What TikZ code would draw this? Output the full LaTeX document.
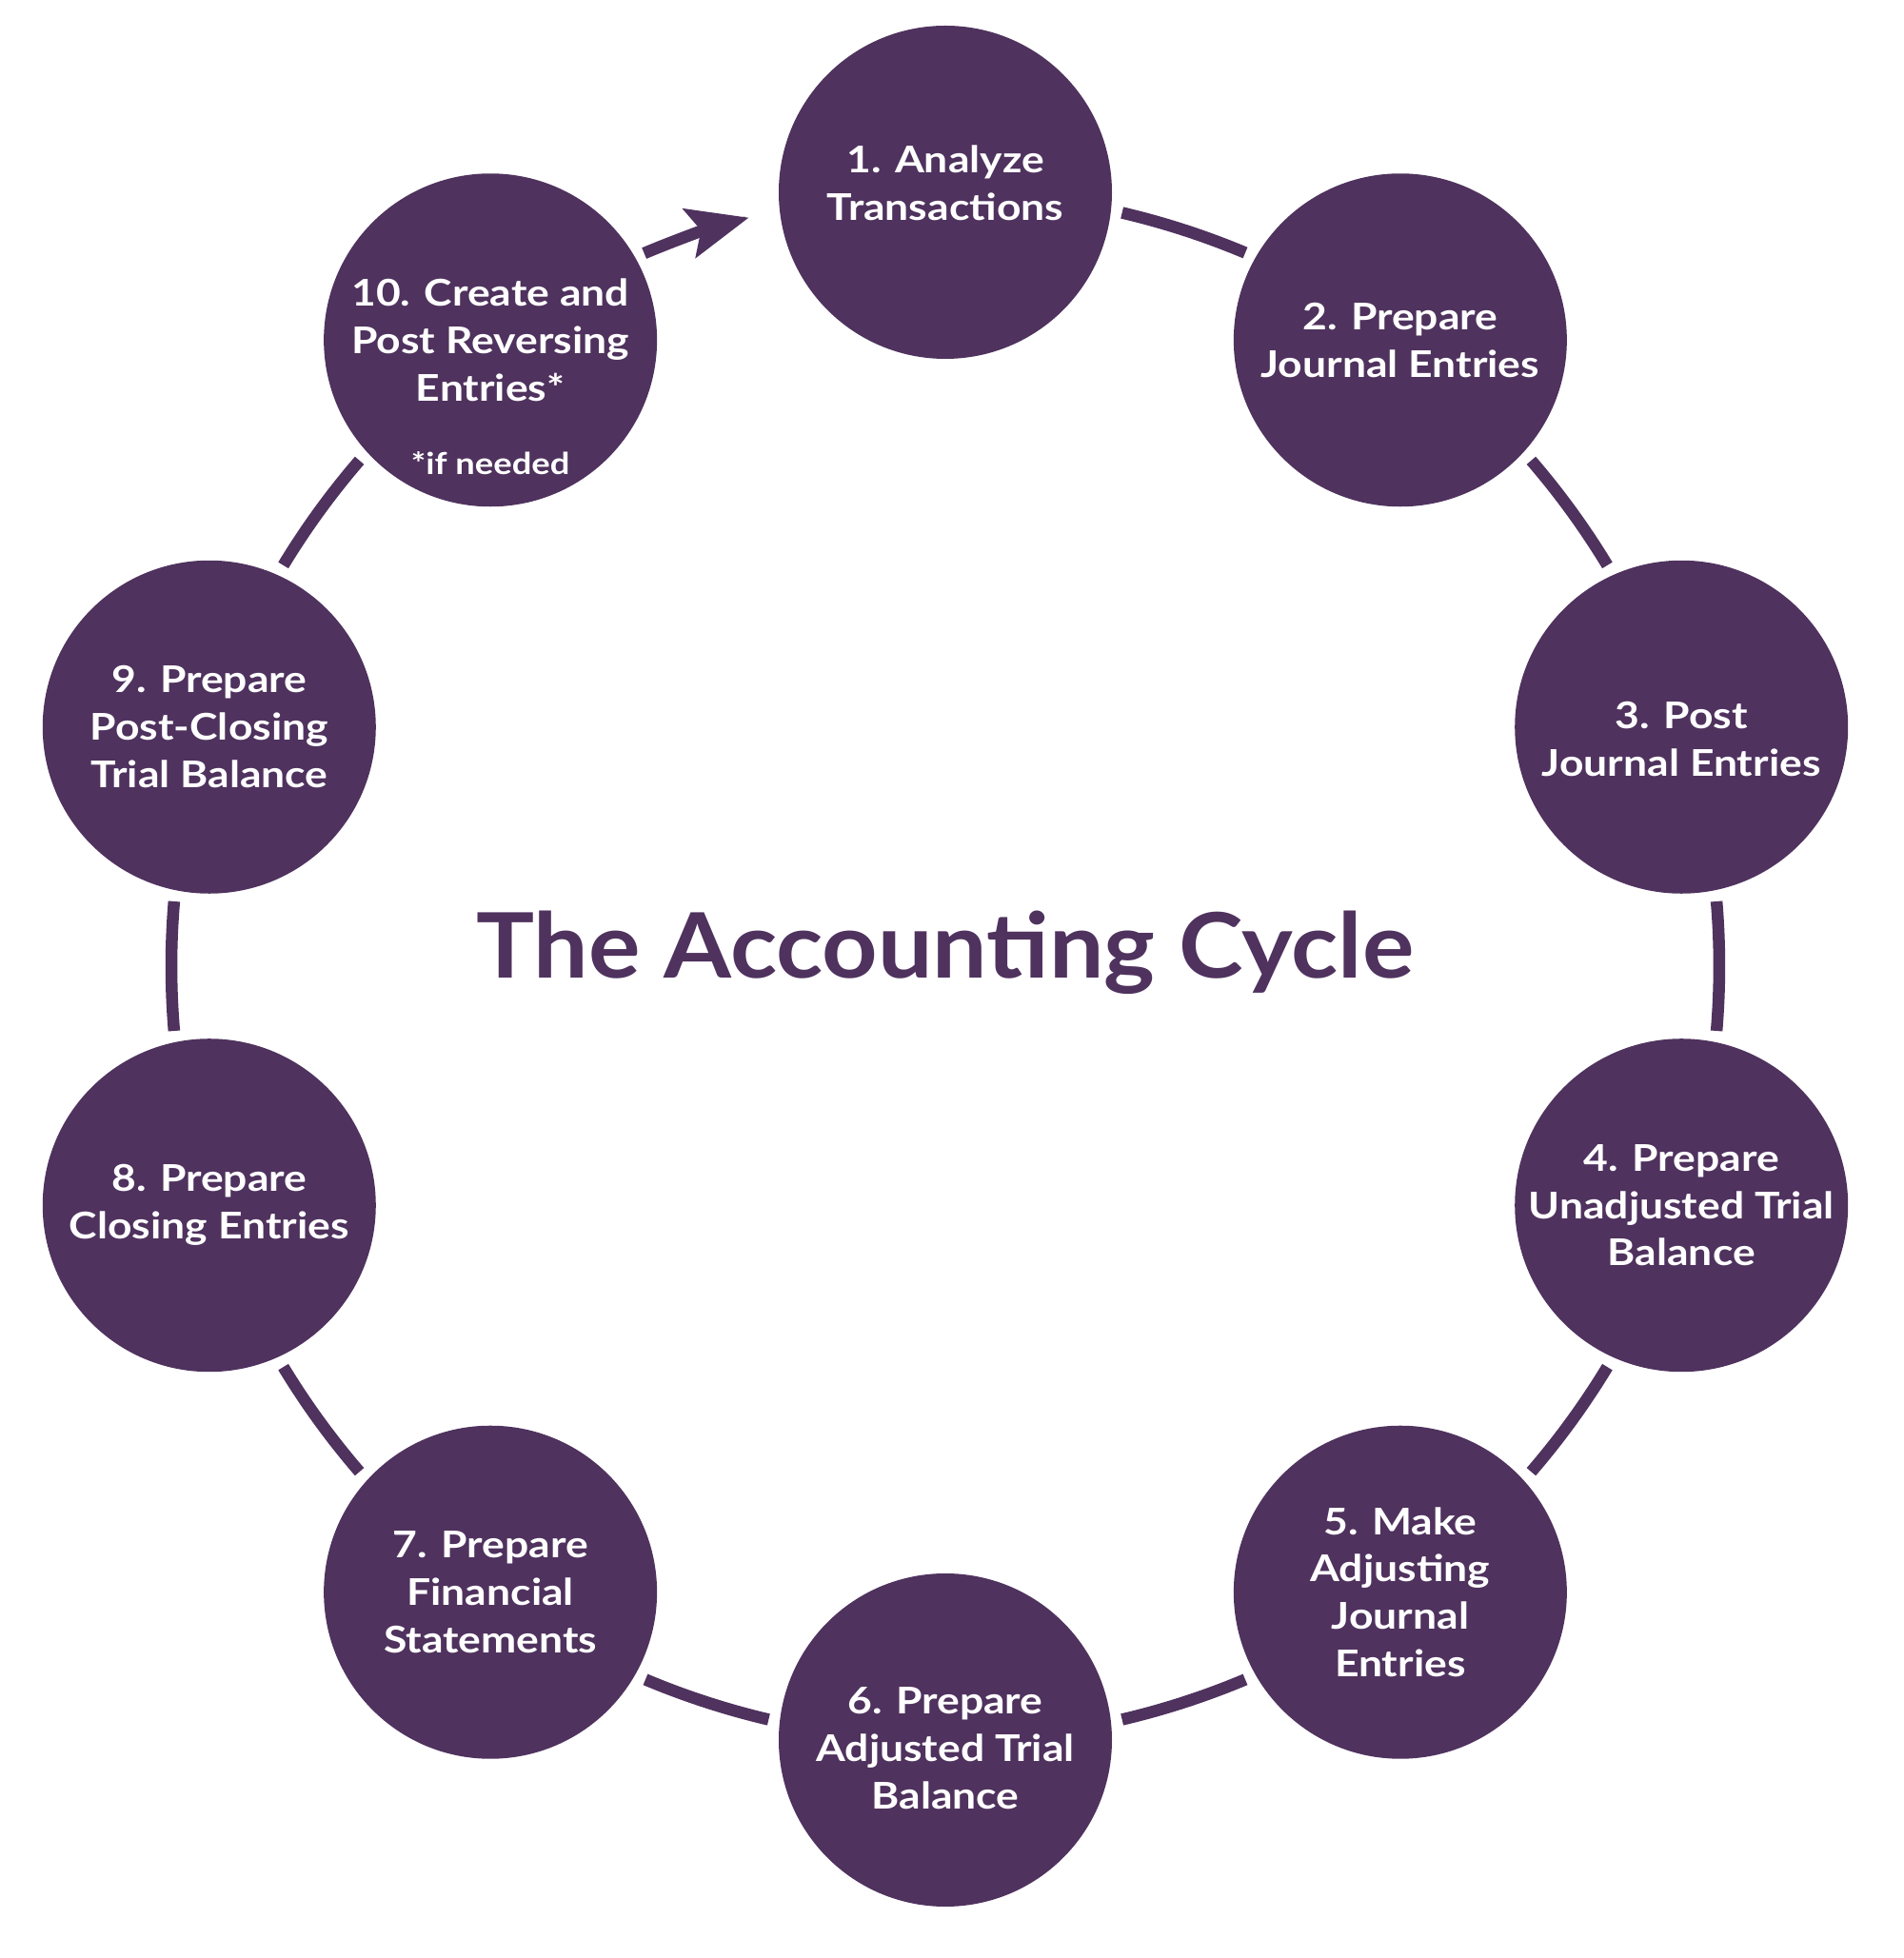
\documentclass[tikz,border=0pt]{standalone}
\usepackage{fontspec}
\setmainfont{Lato}
\newfontfamily\stagefont{Lato}[FakeStretch=1.15]
\newfontfamily\headfont{Lato}[FakeStretch=1.075]
\usetikzlibrary{arrows.meta,positioning,calc}
\definecolor{cyclepurple}{RGB}{79,50,94}
\tikzset{
    every node/.append style={
        font=\bfseries,
        text centered,
        inner sep=0pt
    },
    stage/.style={
        shape=circle,
        fill=cyclepurple,
        text=white,
        minimum size=3.5cm,
        align=center,
        font=\stagefont\fontsize{11}{14.2}\selectfont\bfseries,
    },
    note/.style={
        text=white,
        font=\stagefont\fontsize{9}{10}\selectfont\bfseries,
    },
    heading/.style={
        text=cyclepurple,
        font=\headfont\fontsize{27}{32}\selectfont\bfseries,
    },
    link/.style={
        draw=cyclepurple,
        line width=0.125cm,
        % line cap=round,
    },
}

\begin{document}
\begin{tikzpicture}
    \useasboundingbox (0,0) rectangle (20,20.57);
    \def\R{8.13}
    \coordinate (hub) at (9.93,10.42);

    \node[stage] (s1) at ([shift={(90:\R)}]hub) {1. Analyze\\Transactions\rule[-0.2cm]{0pt}{0pt}};
    \node[stage] (s2) at ([shift={(54:\R)}]hub) {2. Prepare\\Journal Entries};
    \node[stage] (s3) at ([shift={(18:\R)}]hub) {\rule{0pt}{0.54cm}3. Post\\Journal Entries};
    \node[stage] (s4) at ([shift={(-18:\R)}]hub) {4. Prepare\\Unadjusted Trial\\Balance};
    \node[stage] (s5) at ([shift={(-54:\R)}]hub) {5. Make\\Adjusting\\Journal\\Entries};
    \node[stage] (s6) at ([shift={(-90:\R)}]hub) {\rule{0pt}{0.46cm}6. Prepare\\Adjusted Trial\\Balance};
    \node[stage] (s7) at ([shift={(-126:\R)}]hub) {7. Prepare\\Financial\\Statements};
    \node[stage] (s8) at ([shift={(-162:\R)}]hub) {8. Prepare\\Closing Entries};
    \node[stage] (s9) at ([shift={(162:\R)}]hub) {9. Prepare\\Post-Closing\\Trial Balance};
    \node[stage] (s10) at ([shift={(126:\R)}]hub) {10. Create and\\Post Reversing\\Entries*};
    \node[note, anchor=base] (ifneeded) at ([yshift=-1.41cm]s10.center) {*if needed};

    \node[heading, anchor=base] (title) at ([yshift=-0.13cm]hub) {The Accounting Cycle};

    % arcs between the stages
    \foreach \a in {72,36,...,-216}
      \draw[link] ([shift={(\a+4.8:\R)}]hub) arc[start angle=\a+4.8, end angle=\a-4.8, radius=\R];

    % back to the start
    \draw[link, -{Stealth[length=0.64cm, width=0.52cm, inset=0.12cm]}]
      ([shift={(112.9:\R)}]hub) arc[start angle=112.9, end angle=104.7, radius=\R];
\end{tikzpicture}
\end{document}
